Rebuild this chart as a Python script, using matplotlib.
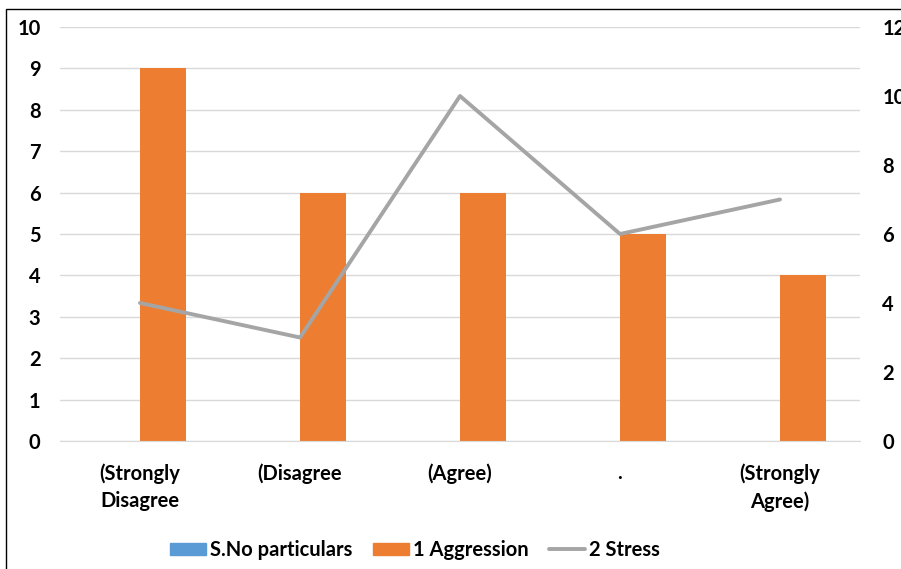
import numpy as np
import matplotlib
matplotlib.use("Agg")
import matplotlib.pyplot as plt
from matplotlib.patches import Rectangle
from matplotlib.lines import Line2D
from matplotlib.patches import Patch

categories = ["(Strongly\nDisagree", "(Disagree", "(Agree)", ".", "(Strongly\nAgree)"]
sno_particulars = [0, 0, 0, 0, 0]
aggression = [9, 6, 6, 5, 4]
stress = [4, 3, 10, 6, 7]

plt.rcParams['font.family'] = ['Lato', 'DejaVu Sans']
plt.rcParams['font.weight'] = 'bold'
FS = 14.5

W, H = 901, 569
fig = plt.figure(figsize=(W / 100, H / 100), dpi=100)
ax = fig.add_axes([60 / W, (H - 441) / H, 800 / W, 414 / H])
ax2 = ax.twinx()

x = np.arange(len(categories))
bw = 0.2875
ax.bar(x - bw / 2, sno_particulars, width=bw, color='#5b9bd5', zorder=2)
ax.bar(x + bw / 2, aggression, width=bw, color='#ed7d31', zorder=2)
ax2.plot(x, stress, color='#a5a5a5', lw=2.8, solid_capstyle='round', zorder=3)

ax.set_xlim(-0.5, len(categories) - 0.5)
ax.set_ylim(0, 10)
ax.set_yticks(range(0, 11))
ax2.set_ylim(0, 12)
ax2.set_yticks(range(0, 13, 2))
ax.yaxis.grid(True, color='#d9d9d9', lw=1.0, zorder=0)
ax.set_axisbelow(True)

ax.set_xticks(x)
ax.set_xticklabels(categories, fontsize=FS, fontweight='bold', linespacing=1.45)
for a in (ax, ax2):
    for s in a.spines.values():
        s.set_visible(False)
    a.tick_params(length=0, labelsize=FS)
ax.spines['bottom'].set_visible(True)
ax.spines['bottom'].set_color('#d9d9d9')
ax.tick_params(axis='y', pad=14)
ax.tick_params(axis='x', pad=16)
ax2.tick_params(axis='y', pad=16)
for lab in ax.get_yticklabels() + ax2.get_yticklabels():
    lab.set_fontweight('bold')

handles = [Patch(color='#5b9bd5'), Patch(color='#ed7d31'),
           Line2D([0], [0], color='#a5a5a5', lw=2.8, solid_capstyle='round')]
fig.legend(handles, ["S.No particulars", "1 Aggression", "2 Stress"],
           loc='center', bbox_to_anchor=(415 / W, 1 - 550 / H), ncol=3, frameon=False,
           handlelength=1.8, handleheight=0.6, handletextpad=0.2,
           columnspacing=1.0, prop={'weight': 'bold', 'size': FS})

fig.patches.append(Rectangle((6 / W, -0.1), 1.2, 1.1 - 9 / H, transform=fig.transFigure,
                             fill=False, edgecolor='black', lw=1.0))

fig.savefig("out.png", dpi=100)
